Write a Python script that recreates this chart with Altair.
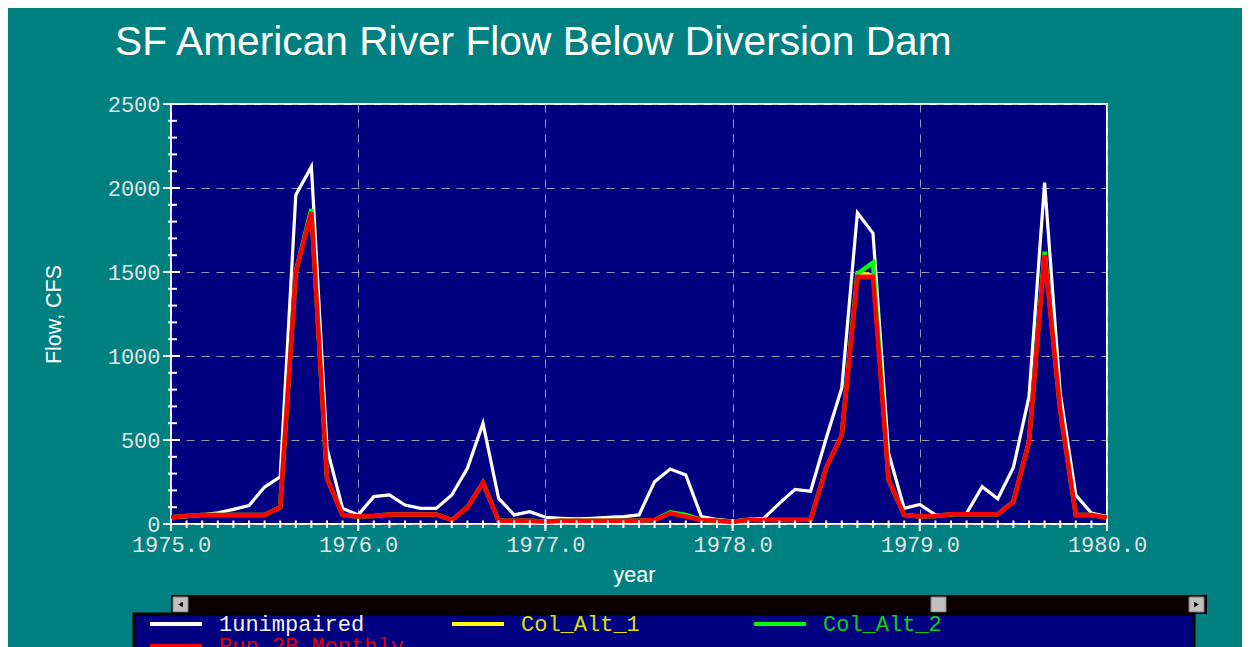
import altair as alt
import pandas as pd

# ---------------- data ----------------
series_names = ["1unimpaired", "Col_Alt_1", "Col_Alt_2", "Run_2B_Monthly"]
series_colors = ["#ffffff", "#ffff00", "#00ff00", "#ff0000"]

month_index = list(range(61))            # monthly steps from 1975.0 to 1980.0
years = [1975 + m / 12 for m in month_index]

unimpaired = [38, 44, 54, 67, 87, 110, 220, 280, 1958, 2127,
              450, 93, 54, 163, 173, 113, 93, 93, 173, 331,
              599, 153, 54, 73, 40, 34, 30, 34, 40, 44,
              54, 252, 327, 292, 44, 27, 18, 27, 34, 123,
              206, 195, 510, 810, 1853, 1730, 421, 93, 116, 54,
              54, 64, 222, 150, 336, 758, 2032, 780, 173, 65,
              44]

run_2b = [40, 47, 54, 54, 54, 54, 54, 99, 1500, 1857,
          272, 54, 44, 47, 57, 57, 57, 57, 24, 99,
          246, 20, 20, 20, 15, 20, 20, 20, 20, 20,
          20, 24, 64, 44, 24, 20, 14, 24, 24, 24,
          24, 26, 335, 530, 1472, 1472, 262, 54, 44, 48,
          58, 58, 58, 58, 133, 490, 1601, 679, 54, 54,
          38]

col_alt_2 = [40, 47, 54, 54, 54, 54, 54, 99, 1500, 1875,
             272, 54, 44, 47, 57, 57, 57, 57, 24, 99,
             246, 20, 20, 20, 15, 20, 20, 20, 20, 20,
             20, 24, 70, 54, 24, 20, 14, 24, 24, 24,
             24, 26, 335, 530, 1490, 1556, 262, 54, 44, 48,
             58, 58, 58, 58, 133, 490, 1621, 679, 54, 54,
             38]

col_alt_1 = [40, 47, 54, 54, 54, 54, 54, 99, 1500, 1860,
             272, 54, 44, 47, 57, 57, 57, 57, 24, 99,
             246, 20, 20, 20, 15, 20, 20, 20, 20, 20,
             20, 24, 66, 46, 24, 20, 14, 24, 24, 24,
             24, 26, 335, 530, 1495, 1480, 262, 54, 44, 48,
             58, 58, 58, 58, 133, 490, 1605, 679, 54, 54,
             38]

x_major = [1975, 1976, 1977, 1978, 1979, 1980]
y_major = [0, 500, 1000, 1500, 2000, 2500]
y_minor = list(range(0, 2501, 100))

# order in which the legend lays out its grid (row 1: 1unimpaired, Col_Alt_1, Col_Alt_2)
legend_values = ["1unimpaired", "Col_Alt_2", "Col_Alt_1", "Run_2B_Monthly"]

# ---------------- tables ----------------
values = {"1unimpaired": unimpaired, "Col_Alt_1": col_alt_1,
          "Col_Alt_2": col_alt_2, "Run_2B_Monthly": run_2b}
rows = []
for name in series_names:
    for yr, v in zip(years, values[name]):
        rows.append({"year": yr, "flow": v, "series": name})
df = pd.DataFrame(rows)
xminor_df = pd.DataFrame({"year": years})
xmajor_df = pd.DataFrame({"year": x_major})
yminor_df = pd.DataFrame({"flow": y_minor})
ymajor_df = pd.DataFrame({"flow": y_major})
dummy = pd.DataFrame({"k": [0]})

TEAL = "#008080"
NAVY = "#000080"
MONO = "Liberation Mono"
SANS = "Liberation Sans"

xscale = alt.Scale(domain=[1975, 1980], nice=False, zero=False)
yscale = alt.Scale(domain=[0, 2500], nice=False)

xaxis = alt.Axis(values=x_major, format=".1f", title="year",
                 grid=True, gridColor="#c8c8c8", gridOpacity=0.75, gridDash=[8, 7], gridWidth=1,
                 ticks=False, tickSize=0, domain=False, labelFlush=False,
                 labelFont=MONO, labelFontSize=22, labelColor="#e4e4e4", labelPadding=10,
                 titleFont=SANS, titleFontSize=21.5, titleFontWeight="normal", titleColor="white",
                 titleX=463, titleY=57, titleBaseline="alphabetic")
yaxis = alt.Axis(values=y_major, format="d", title="Flow, CFS",
                 grid=True, gridColor="#c8c8c8", gridOpacity=0.75, gridDash=[8, 7], gridWidth=1,
                 ticks=False, tickSize=0, domain=False, labelFlush=False,
                 labelFont=MONO, labelFontSize=22, labelColor="#e4e4e4", labelPadding=11,
                 titleFont=SANS, titleFontSize=21.5, titleFontWeight="normal", titleColor="white",
                 titleX=-111, titleY=210, titleBaseline="alphabetic")

label_color_expr = ("datum.label == '1unimpaired' ? '#f4f4f4' : "
                    "datum.label == 'Col_Alt_1' ? '#e0e000' : "
                    "datum.label == 'Col_Alt_2' ? '#10d010' : '#e00000'")

legend = alt.Legend(orient="none", legendX=-38, legendY=511, columns=3, title=None,
                    values=legend_values,
                    symbolType="stroke", symbolSize=2704, symbolStrokeWidth=4,
                    symbolOffset=15, labelOffset=15, columnPadding=31, rowPadding=0,
                    gridAlign="all", padding=0, clipHeight=18,
                    labelFont=MONO, labelFontSize=22, labelColor={"expr": label_color_expr},
                    labelLimit=400)

color = alt.Color("series:N", scale=alt.Scale(domain=series_names, range=series_colors),
                  legend=legend)

X = alt.X("year:Q", scale=xscale, axis=xaxis)
Y = alt.Y("flow:Q", scale=yscale, axis=yaxis)

base = alt.Chart(df)
widths = {"1unimpaired": 3.2, "Col_Alt_1": 3.5, "Col_Alt_2": 4.5, "Run_2B_Monthly": 4.5}
line_layers = [
    base.transform_filter(alt.datum.series == name).mark_line(strokeWidth=widths[name]).encode(
        x=X, y=Y, color=color,
    )
    for name in series_names
]

# minor / major ticks crossing the axes
xminor = alt.Chart(xminor_df).mark_rule(color="white", strokeWidth=2).encode(
    x=X, y=alt.value(416.5), y2=alt.value(424))
xmajor = alt.Chart(xmajor_df).mark_rule(color="white", strokeWidth=2).encode(
    x=X, y=alt.value(415), y2=alt.value(427))
yminor = alt.Chart(yminor_df).mark_rule(color="white", strokeWidth=2).encode(
    y=Y, x=alt.value(-3), x2=alt.value(6))
ymajor = alt.Chart(ymajor_df).mark_rule(color="white", strokeWidth=2).encode(
    y=Y, x=alt.value(-8), x2=alt.value(9))

# scrollbar and legend panel (decoration below the plot)
d = alt.Chart(dummy)
scroll_bar = d.mark_rect(fill="#0a0000").encode(
    x=alt.value(0), x2=alt.value(1036), y=alt.value(491), y2=alt.value(510))
btn_left = d.mark_rect(fill="#c0c0c0", stroke="#808080", strokeWidth=1).encode(
    x=alt.value(2), x2=alt.value(17), y=alt.value(493), y2=alt.value(508))
btn_thumb = d.mark_rect(fill="#c0c0c0", stroke="#808080", strokeWidth=1).encode(
    x=alt.value(760), x2=alt.value(775), y=alt.value(493), y2=alt.value(508))
btn_right = d.mark_rect(fill="#c0c0c0", stroke="#808080", strokeWidth=1).encode(
    x=alt.value(1018), x2=alt.value(1033), y=alt.value(493), y2=alt.value(508))
arrow_left = d.mark_point(shape="triangle-left", filled=True, color="black", size=30, opacity=1).encode(
    x=alt.value(9.5), y=alt.value(500.5))
arrow_right = d.mark_point(shape="triangle-right", filled=True, color="black", size=30, opacity=1).encode(
    x=alt.value(1025.5), y=alt.value(500.5))
legend_box = d.mark_rect(fill=NAVY, stroke="#000000", strokeWidth=3).encode(
    x=alt.value(-37), x2=alt.value(1023), y=alt.value(510), y2=alt.value(580))

chart = alt.layer(
    *line_layers, xminor, xmajor, yminor, ymajor,
    scroll_bar, btn_left, btn_thumb, btn_right, arrow_left, arrow_right, legend_box,
).properties(
    width=936, height=420,
    autosize=alt.AutoSizeParams(type="none"),
    padding={"left": 163, "top": 96, "right": 135, "bottom": 123},
    title=alt.Title("SF American River Flow Below Diversion Dam", anchor="start", frame="group",
                    dx=-56, offset=29, font=SANS, fontSize=40.7, fontWeight="normal", color="white"),
).configure(background=TEAL).configure_view(fill=NAVY, stroke="white", strokeWidth=2)

chart.save("out.html", embed_options={"renderer": "svg", "actions": False})
